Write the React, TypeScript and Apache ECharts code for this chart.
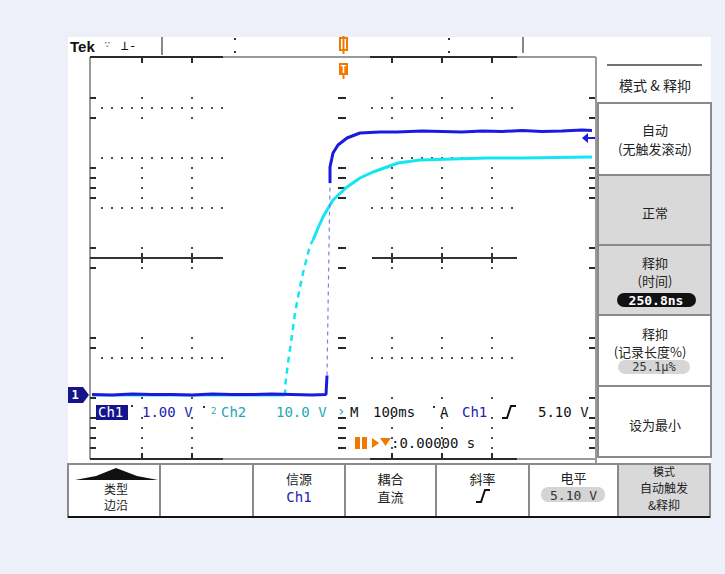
import React, { useEffect, useRef } from "react";
import * as echarts from "echarts";

// ---- Data (time in ms, voltage in V) ----
const ch1LowTime = [-500, -460, -420, -380, -340, -300, -260, -220, -180, -140, -100, -60, -32, -30];
const ch1LowVolt = [0.02, 0.01, 0.03, 0.02, 0.02, 0.01, 0.03, 0.02, 0.02, 0.03, 0.02, 0.01, 0.02, 0.4];
const ch1EdgeTime = [-30, -24];
const ch1EdgeVolt = [0.4, 4.25];
const ch1HighTime = [-24, -24, -18, -8, 10, 36, 76, 110, 160, 200, 240, 280, 320, 360, 400, 440, 480, 500];
const ch1HighVolt = [4.25, 4.57, 4.85, 5.01, 5.15, 5.25, 5.27, 5.27, 5.29, 5.28, 5.27, 5.29, 5.28, 5.3, 5.28, 5.29, 5.31, 5.3];

const ch2LowTime = [-500, -114];
const ch2LowVolt = [0, 0];
const ch2RiseTime = [-114, -113, -108, -100, -94, -84, -78, -64, -58];
const ch2RiseVolt = [0, 2.5, 6.5, 12.1, 16.5, 21.7, 24.5, 30.0, 31.1];
const ch2HighTime = [-58, -48, -38, -18, 10, 36, 62, 90, 112, 156, 220, 290, 360, 430, 500];
const ch2HighVolt = [31.1, 33.5, 35.7, 39.1, 41.7, 43.5, 44.7, 45.7, 46.5, 47.1, 47.3, 47.5, 47.5, 47.6, 47.7];

// Channel settings (text)
const ch1Scale = "1.00 V";
const ch2Scale = "10.0 V";
const timeScale = "100ms";
const trigLevel = "5.10 V";
const trigPos = ":0.00000 s";
const holdoffTime = "250.8ns";
const holdoffPct = "25.1μ%";
const bottomMenu = [
  ["类型", "边沿"],
  ["", ""],
  ["信源", "Ch1"],
  ["耦合", "直流"],
  ["斜率", ""],
  ["电平", "5.10 V"],
  ["模式", "自动触发", "&释抑"],
];
const sideMenu = [
  ["自动", "(无触发滚动)"],
  ["正常"],
  ["释抑", "(时间)"],
  ["释抑", "(记录长度%)"],
  ["设为最小"],
];

const zip = (a: number[], b: number[]) => a.map((v, i) => [v, b[i]]);

const BLUE = "#1a1ae0";
const CYAN = "#12e6f2";
const NAVY = "#14148c";
const TEAL = "#1ea8b4";
const ORANGE = "#f07a00";
const MONO = "DejaVu Sans Mono";
const CJK = "'Noto Sans CJK SC'";

function line(x1: number, y1: number, x2: number, y2: number, stroke: string, lw = 1, z = 0) {
  return { type: "line", z, silent: true, shape: { x1, y1, x2, y2 }, style: { stroke, lineWidth: lw } };
}
function rect(x: number, y: number, w: number, h: number, fill: string, z = 0, stroke?: string, lw = 0, r = 0) {
  return {
    type: "rect", z, silent: true,
    shape: { x, y, width: w, height: h, r },
    style: stroke ? { fill, stroke, lineWidth: lw } : { fill },
  };
}
function text(x: number, y: number, t: string, fill: string, font: string, align = "left", z = 10) {
  return {
    type: "text", z, silent: true, x, y,
    style: { text: t, fill, font, align, verticalAlign: "middle", textAlign: align, textVerticalAlign: "middle" },
  };
}

function buildGraphics() {
  const els: any[] = [];
  els.push(rect(68, 37, 643, 481, "#ffffff", -10));

  // ---- graticule ----
  const GRAY = "#9a9a9a";
  const DARK = "#2a2a2a";
  const DOT = "#505050";
  els.push(line(90, 57, 596, 57, GRAY, 2));
  els.push(line(90, 459, 596, 459, GRAY, 2));
  els.push(line(90, 57, 90, 459, GRAY, 2));
  els.push(line(596, 57, 596, 464, GRAY, 2));
  for (const [a, b] of [[90, 223], [370, 517]]) {
    els.push(line(a, 57, b, 57, DARK, 2));
    els.push(line(a, 459, b, 459, DARK, 2));
  }
  const colX = [142, 192, 392, 442, 492];
  for (const x of colX) {
    els.push(line(x, 57, x, 63, DARK, 2));
    els.push(line(x, 453, x, 459, DARK, 2));
  }
  els.push(line(90, 258, 223, 258, "#333", 2));
  els.push(line(372, 258, 517, 258, "#333", 2));
  for (const x of colX) els.push(line(x, 253, x, 263, "#333", 2));
  const rows = [108, 158, 208, 358];
  for (const y of rows) {
    for (let k = 1; k <= 13; k++) els.push(rect(92 + 10 * k - 1, y - 1, 2, 2, DOT));
    for (let k = 28; k <= 42; k++) els.push(rect(92 + 10 * k - 1, y - 1, 2, 2, DOT));
  }
  const tickY = [98, 118, 168, 178, 188, 198, 248, 268, 338, 348, 398, 418, 428, 438, 448];
  for (const y of tickY) {
    for (const x of colX) els.push(rect(x - 1, y - 1, 2, 2, DOT));
    els.push(line(90, y, 96, y, DARK, 2));
    els.push(line(338, y, 346, y, DARK, 2));
    els.push(line(589, y, 595, y, DARK, 2));
  }

  // ---- top status bar ----
  els.push(text(70, 46, "Tek", "#111", "bold 15px 'Liberation Sans'"));
  els.push(text(104, 44, "∵", "#777", `11px ${MONO}`));
  els.push(text(121, 45, "⊥-", "#111", `13px ${MONO}`));
  els.push(line(162, 37, 162, 55, "#888", 2));
  els.push(line(523, 37, 523, 53, "#888", 2));
  for (const x of [235, 449]) {
    els.push(rect(x - 1, 38, 2, 2, "#333"));
    els.push(rect(x - 1, 51, 2, 2, "#333"));
  }
  els.push(rect(340, 38, 7, 12, "#ffffff", 5, ORANGE, 2));
  els.push(line(343.5, 36, 343.5, 54, ORANGE, 2, 5));
  els.push(rect(339, 63, 9, 12, ORANGE, 5));
  els.push(text(343.5, 69, "T", "#ffffff", `bold 10px ${MONO}`, "center", 6));
  els.push(line(343.5, 74, 343.5, 79, ORANGE, 2, 5));

  // Ch1 ground marker
  els.push({
    type: "polygon", z: 8, silent: true,
    shape: { points: [[68, 387], [83, 387], [89, 395], [83, 403], [68, 403]] },
    style: { fill: NAVY },
  });
  els.push(text(75, 395, "1", "#ffffff", `bold 12px ${MONO}`, "center", 9));
  els.push(line(586, 138, 595, 138, BLUE, 2, 8));
  els.push({
    type: "polygon", z: 8, silent: true,
    shape: { points: [[582, 138], [588, 133], [588, 143]] },
    style: { fill: BLUE },
  });

  // ---- readout rows ----
  const F = `14px ${MONO}`;
  els.push(rect(96, 405, 32, 15, NAVY, 9));
  els.push(text(98, 412, "Ch1", "#ffffff", F));
  els.push(rect(131, 405, 2, 2, "#333"));
  els.push(text(142, 412, ch1Scale, "#2222b0", F));
  els.push(rect(203, 406, 2, 2, "#333"));
  els.push(text(211, 411, "2", TEAL, `9px ${MONO}`));
  els.push(text(221, 412, "Ch2", TEAL, F));
  els.push(text(276, 412, ch2Scale, TEAL, F));
  els.push(text(337, 411, "›", TEAL, F));
  els.push(text(350, 412, "M", "#111", F));
  els.push(text(373, 412, timeScale, "#111", F));
  els.push(rect(433, 406, 2, 2, "#333"));
  els.push(text(440, 412, "A", "#111", F));
  els.push(text(462, 412, "Ch1", "#2222b0", F));
  els.push({
    type: "polyline", z: 10, silent: true,
    shape: { points: [[502, 418], [507, 418], [511, 406], [516, 406]] },
    style: { stroke: "#111", lineWidth: 2, fill: null },
  });
  els.push(text(538, 412, trigLevel, "#111", F));
  els.push(rect(355, 437, 5, 12, ORANGE, 9));
  els.push(rect(362, 437, 5, 12, ORANGE, 9));
  els.push({
    type: "polygon", z: 9, silent: true,
    shape: { points: [[372, 438], [372, 448], [379, 443]] },
    style: { fill: ORANGE },
  });
  els.push({
    type: "polygon", z: 9, silent: true,
    shape: { points: [[380, 438], [391, 438], [385.5, 446]] },
    style: { fill: ORANGE },
  });
  els.push(text(391, 443, trigPos, "#111", F));

  // ---- right side menu ----
  const MB = "#8a8a8a";
  const CF = `13px ${CJK}`;
  els.push(line(607, 65, 702, 65, "#444", 1.5));
  els.push(text(655, 85, "模式 & 释抑", "#222", `14px ${CJK}`, "center"));
  const sideBoxes = [
    [103, 175, "#ffffff"],
    [175, 245, "#d9d9d9"],
    [245, 315, "#d9d9d9"],
    [315, 386, "#ffffff"],
    [386, 457, "#ffffff"],
  ] as [number, number, string][];
  sideBoxes.forEach(([a, b, fill]) => {
    els.push(rect(598, a, 113, b - a, fill, 1, MB, 2));
  });
  const cx = 655;
  els.push(text(cx, 129, sideMenu[0][0], "#222", CF, "center"));
  els.push(text(cx, 148, sideMenu[0][1], "#222", CF, "center"));
  els.push(text(cx, 212, sideMenu[1][0], "#222", CF, "center"));
  els.push(text(cx, 262, sideMenu[2][0], "#222", CF, "center"));
  els.push(text(cx, 280, sideMenu[2][1], "#222", CF, "center"));
  els.push(rect(617, 293, 79, 14, "#111", 9, undefined, 0, 7));
  els.push(text(cx + 1, 300, holdoffTime, "#ffffff", `bold 13px ${MONO}`, "center"));
  els.push(text(cx, 333, sideMenu[3][0], "#222", CF, "center"));
  els.push(text(cx - 5, 351, sideMenu[3][1], "#222", CF, "center"));
  els.push(rect(618, 360, 72, 14, "#d6d6d6", 9, undefined, 0, 7));
  els.push(text(cx - 1, 367, holdoffPct, "#333", `12px ${MONO}`, "center"));
  els.push(text(cx, 424, sideMenu[4][0], "#222", `13px ${CJK}`, "center"));

  // ---- bottom menu ----
  const edges = [68, 160, 253, 345, 436, 529, 618, 710];
  for (let i = 0; i < 7; i++) {
    const fill = i === 6 ? "#d9d9d9" : "#ffffff";
    els.push(rect(edges[i], 464, edges[i + 1] - edges[i], 53, fill, 1, MB, 2));
  }
  els.push(line(68, 517, 710, 517, "#111", 2, 3));
  const centers = edges.slice(0, 7).map((e, i) => (e + edges[i + 1]) / 2);
  const SF = `12px ${CJK}`;
  els.push({
    type: "polygon", z: 8, silent: true,
    shape: { points: [[75, 480], [96, 476], [116, 468], [137, 476], [158, 480]] },
    style: { fill: "#111" },
  });
  els.push(text(centers[0] + 2, 488, bottomMenu[0][0], "#222", SF, "center"));
  els.push(text(centers[0] + 2, 504, bottomMenu[0][1], "#222", SF, "center"));
  els.push(text(centers[2], 478, bottomMenu[2][0], "#222", CF, "center"));
  els.push(text(centers[2], 497, bottomMenu[2][1], "#2222b0", F, "center"));
  els.push(text(centers[3], 478, bottomMenu[3][0], "#222", CF, "center"));
  els.push(text(centers[3], 496, bottomMenu[3][1], "#222", CF, "center"));
  els.push(text(centers[4], 478, bottomMenu[4][0], "#222", CF, "center"));
  els.push({
    type: "polyline", z: 10, silent: true,
    shape: { points: [[476, 502], [481, 502], [485, 490], [490, 490]] },
    style: { stroke: "#111", lineWidth: 2, fill: null },
  });
  els.push(text(centers[5], 477, bottomMenu[5][0], "#222", CF, "center"));
  els.push(rect(541, 487, 64, 15, "#d4d4d4", 9, undefined, 0, 7));
  els.push(text(centers[5], 495, bottomMenu[5][1], "#333", `13px ${MONO}`, "center"));
  els.push(text(centers[6], 471, bottomMenu[6][0], "#222", `11px ${CJK}`, "center"));
  els.push(text(centers[6], 487, bottomMenu[6][1], "#222", SF, "center"));
  els.push(text(centers[6], 504, bottomMenu[6][2], "#222", SF, "center"));

  return els;
}

export default function App() {
  const ref = useRef<HTMLDivElement>(null);
  useEffect(() => {
    if (!ref.current) return;
    const chart = echarts.init(ref.current, undefined, { renderer: "svg" });
    const common = { type: "line", symbol: "none", silent: true, z: 3 };
    chart.setOption({
      animation: false,
      backgroundColor: "#eef0f9",
      grid: { left: 92, right: 133, top: 58, bottom: 116 },
      xAxis: { type: "value", min: -500, max: 500, show: false },
      yAxis: [
        { type: "value", min: -1.25, max: 6.75, show: false },
        { type: "value", min: -12.5, max: 67.5, show: false },
      ],
      series: [
        { ...common, name: "Ch2", yAxisIndex: 1, data: zip(ch2LowTime, ch2LowVolt), lineStyle: { color: CYAN, width: 2 } },
        { ...common, name: "Ch2 rise", yAxisIndex: 1, data: zip(ch2RiseTime, ch2RiseVolt), lineStyle: { color: CYAN, width: 2.5, type: [6, 5] } },
        { ...common, name: "Ch2 high", yAxisIndex: 1, data: zip(ch2HighTime, ch2HighVolt), lineStyle: { color: CYAN, width: 3 } },
        { ...common, z: 4, name: "Ch1", yAxisIndex: 0, data: zip(ch1LowTime, ch1LowVolt), lineStyle: { color: BLUE, width: 3 } },
        { ...common, z: 4, name: "Ch1 edge", yAxisIndex: 0, data: zip(ch1EdgeTime, ch1EdgeVolt), lineStyle: { color: "#7c7cf0", width: 1.2, type: [4, 4] } },
        { ...common, z: 4, name: "Ch1 high", yAxisIndex: 0, data: zip(ch1HighTime, ch1HighVolt), lineStyle: { color: BLUE, width: 3 } },
      ],
      graphic: { elements: buildGraphics() },
    });
    return () => chart.dispose();
  }, []);
  return (
    <div
      ref={ref}
      style={{ position: "fixed", left: 0, top: 0, width: 725, height: 574 }}
    />
  );
}
